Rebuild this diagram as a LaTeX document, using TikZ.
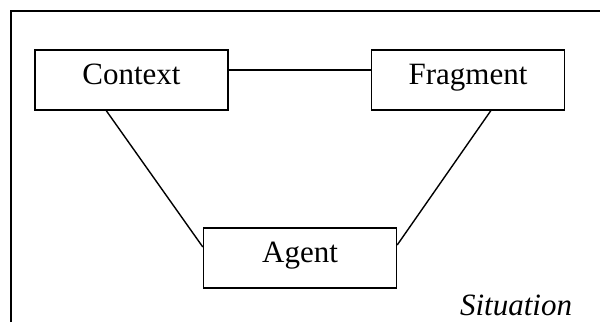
\documentclass[tikz,border=0pt]{standalone}
\usepackage{fontspec}
\setmainfont{Liberation Serif}
\begin{document}
\begin{tikzpicture}[x=1pt,y=-1pt,
  thing/.style={draw,line width=1.4pt,minimum width=193pt,minimum height=60pt,
    inner sep=0pt,text height=20pt,text depth=12pt,
    font=\fontsize{31}{34}\selectfont},
  link/.style={line width=1.4pt}]
\useasboundingbox (0,0) rectangle (600,322);
% open frame around the situation
\coordinate (fb) at (11,322);
\coordinate (fc) at (11,11);
\coordinate (fr) at (600,11);
\draw[link] (fb) -- (fc) -- (fr);
\node[thing] (context) at (131.5,80) {Context};
\node[thing] (fragment) at (468,80) {Fragment};
\node[thing] (agent) at (300,258) {Agent};
\draw[link] (context.east |- 0,70) -- (fragment.west |- 0,70);
\draw[link] (context.south west) ++(72,0) coordinate (cs) (cs) -- (agent.west |- 0,247);
\draw[link] (fragment.south west) ++(120,0) coordinate (fs) (fs) -- (agent.east |- 0,245);
\node[font=\fontsize{31}{34}\selectfont\itshape,anchor=base,inner sep=0pt] (sit) at (516,315) {Situation};
\end{tikzpicture}
\end{document}
